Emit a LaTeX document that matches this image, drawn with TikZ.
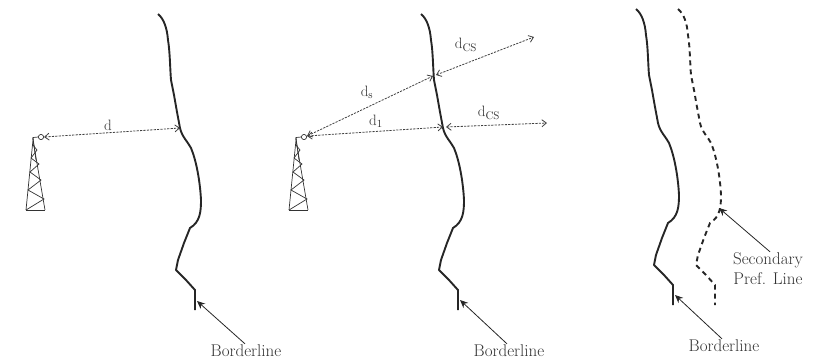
\documentclass[tikz,border=0pt]{standalone}
\usetikzlibrary{arrows.meta}
\tikzset{
  x=1pt,y=-1pt,
  border/.style={line width=1.9pt,line join=round,line cap=butt,black!85},
  second/.style={line width=1.9pt,line join=round,dash pattern=on 5pt off 4pt,black!85},
  mast/.style={line width=0.7pt,black!80},
  dist/.style={line width=0.8pt,dash pattern=on 2.2pt off 1.2pt,black!75,{Straight Barb[length=4.5pt,width=7pt]}-{Straight Barb[length=4.5pt,width=7pt]}},
  distone/.style={dist,{Straight Barb[length=4.5pt,width=7pt]}-{Straight Barb[length=4.5pt,width=7pt]}},
  pointer/.style={line width=0.8pt,black!85,-{Stealth[length=8pt,width=7pt]}},
  lbl/.style={inner sep=0pt,font=\fontsize{17}{20}\selectfont,text=black!80},
  dlbl/.style={inner sep=0pt,font=\fontsize{15}{18}\selectfont,text=black!80}
}
\newcommand{\borderpts}{(158,14) .. controls (164,19) and (167,28) .. (168,40) .. controls (170,52) and (170,68) .. (171,80) -- (174,95) -- (177,112) -- (180,128) .. controls (182,137) and (188,142) .. (191,148) .. controls (196,160) and (200,180) .. (201,200) .. controls (201,212) and (200,222) .. (190,228) -- (184,243) -- (178,260) -- (176,270) -- (186,280) -- (195,290) -- (195,310)}
\newcommand{\towerdraw}{%
  \draw[mast] (26,210) -- (33,140) -- (45,210);
  \draw[mast] (33,138) -- (36,160) ;
  \draw[mast] (26,210) -- (44,199) -- (28,190) -- (41,180) -- (30,172) -- (39,164) -- (31,158) -- (37,150) -- (33,145);
  \draw[mast] (26,210) -- (45,210);
  \draw[mast] (33,140) -- (33,137.5) -- (38,137);
  \draw[mast,fill=white] (41,137) circle (2.6);
}
\begin{document}
\begin{tikzpicture}
\useasboundingbox (0,0) rectangle (823,360);
% left panel
\begin{scope}
  \towerdraw
  \draw[border] \borderpts;
\end{scope}
\coordinate (t1) at (44,137);
\coordinate (c1) at (180,128);
\draw[distone] (t1) -- (c1);
\node[dlbl] (dl) at (108,125) {d};
\coordinate (p1) at (197,301);
\node[lbl] (b1) at (246,351) {Borderline};
\draw[pointer] (b1.north west -| 245,0) ++(0,-1) -- (p1);
% middle panel
\begin{scope}[shift={(263,0)}]
  \towerdraw
  \draw[border] \borderpts;
\end{scope}
\coordinate (t2) at (307,136);
\coordinate (c2) at (433,76);
\coordinate (c3) at (443,127);
\coordinate (e2) at (534,37);
\coordinate (e3) at (547,123);
\draw[dist] (t2) -- (c2);
\draw[dist] (t2) -- (c3);
\draw[dist] (c2) ++(3,-1) -- (e2);
\draw[dist] (c3) ++(3,0) -- (e3);
\node[dlbl] (ds) at (367,92) {d$_{\rm s}$};
\node[dlbl] (d1) at (376,121) {d$_{\rm 1}$};
\node[dlbl] (dc1) at (466,45) {d$_{\rm CS}$};
\node[dlbl] (dc2) at (489,113) {d$_{\rm CS}$};
\coordinate (p2) at (460,300);
\node[lbl] (b2) at (509,351) {Borderline};
\draw[pointer] (b2.north west -| 507,0) ++(0,-1) -- (p2);
% right panel
\begin{scope}[shift={(478,-5)}]
  \draw[border] \borderpts;
\end{scope}
\begin{scope}[shift={(520,-5)}]
  \draw[second] \borderpts;
\end{scope}
\coordinate (p3) at (675,295);
\node[lbl] (b3) at (724,346) {Borderline};
\draw[pointer] (b3.north west -| 722,0) ++(0,-1) -- (p3);
\coordinate (p4) at (719,208);
\node[lbl,align=center] (s1) at (768,269) {Secondary\\Pref. Line};
\draw[pointer] (s1.north west -| 770,0) ++(0,-1) -- (p4);
\end{tikzpicture}
\end{document}
